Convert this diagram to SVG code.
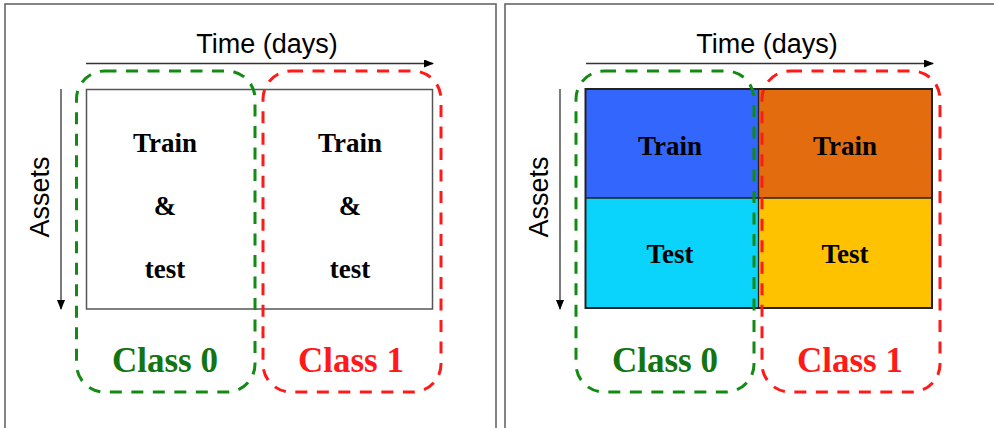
<svg xmlns="http://www.w3.org/2000/svg" width="994" height="428" viewBox="0 0 994 428">
<defs>
<marker id="ah" markerWidth="10" markerHeight="8" refX="9" refY="4" orient="auto" markerUnits="userSpaceOnUse">
<path d="M0,0 L10,4 L0,8 Z" fill="#000"/>
</marker>
<style>
.frame{fill:#fff;stroke:#666;stroke-width:1.6}
.axis{stroke:#333;stroke-width:1.3;fill:none}
.axlab{font-family:"Liberation Sans",Arial,sans-serif;font-size:27px;fill:#000;text-anchor:middle}
.cell{font-family:"Liberation Serif","Times New Roman",serif;font-weight:bold;font-size:27px;fill:#000;text-anchor:middle}
.cls{font-family:"Liberation Serif","Times New Roman",serif;font-weight:bold;font-size:35px;text-anchor:middle}
.g{fill:none;stroke:#138a13;stroke-width:3;stroke-dasharray:12 9.5}
.r{fill:none;stroke:#ff1a1a;stroke-width:3;stroke-dasharray:12 9.5}
</style>
</defs>
<rect class="frame" x="5" y="4" width="491" height="430"/>
<rect class="frame" x="505" y="4" width="495" height="430"/>

<g id="connectors">
<line class="axis" x1="86" y1="63.5" x2="433" y2="63.5" marker-end="url(#ah)"/>
<line class="axis" x1="61" y1="89" x2="61" y2="309" marker-end="url(#ah)"/>
<line class="axis" x1="586" y1="63.5" x2="933" y2="63.5" marker-end="url(#ah)"/>
<line class="axis" x1="560" y1="89" x2="560" y2="309" marker-end="url(#ah)"/>
</g>

<g id="left-panel">
<text class="axlab" x="267" y="53">Time (days)</text>
<text class="axlab" transform="translate(49,197) rotate(-90)">Assets</text>
<g id="left-grid">
<rect x="86.5" y="89.5" width="346" height="219.5" fill="#fff" stroke="#555" stroke-width="1.5"/>
<text class="cell" x="165" y="152">Train</text>
<text class="cell" x="165" y="215">&amp;</text>
<text class="cell" x="165" y="278">test</text>
<text class="cell" x="350" y="152">Train</text>
<text class="cell" x="350" y="215">&amp;</text>
<text class="cell" x="350" y="278">test</text>
</g>
<g id="left-class0">
<rect class="g" x="76.5" y="71" width="178.5" height="321" rx="28" ry="28"/>
<text class="cls" x="165" y="372" fill="#127412">Class 0</text>
</g>
<g id="left-class1">
<rect class="r" x="263" y="71" width="178" height="321" rx="28" ry="28"/>
<text class="cls" x="351" y="372" fill="#ff1a1a">Class 1</text>
</g>
</g>

<g id="right-panel">
<text class="axlab" x="767" y="53">Time (days)</text>
<text class="axlab" transform="translate(548,197) rotate(-90)">Assets</text>
<g id="right-grid">
<rect x="585.5" y="89" width="173" height="109" fill="#3366fc"/>
<rect x="758.5" y="89" width="173.5" height="109" fill="#e36c0e"/>
<rect x="585.5" y="198" width="173" height="110" fill="#0ad4fc"/>
<rect x="758.5" y="198" width="173.5" height="110" fill="#fec200"/>
<line x1="585.5" y1="198" x2="932" y2="198" stroke="#222" stroke-width="1.3"/>
<line x1="758.5" y1="89" x2="758.5" y2="308" stroke="#222" stroke-width="1.3"/>
<rect x="585.5" y="89" width="346.5" height="219" fill="none" stroke="#222" stroke-width="2"/>
<text class="cell" x="670" y="155">Train</text>
<text class="cell" x="845" y="155">Train</text>
<text class="cell" x="670" y="263">Test</text>
<text class="cell" x="845" y="263">Test</text>
</g>
<g id="right-class0">
<rect class="g" x="576" y="71" width="178" height="321" rx="28" ry="28"/>
<text class="cls" x="665" y="372" fill="#127412">Class 0</text>
</g>
<g id="right-class1">
<rect class="r" x="762" y="71" width="178" height="321" rx="28" ry="28"/>
<text class="cls" x="850" y="372" fill="#ff1a1a">Class 1</text>
</g>
</g>
</svg>
